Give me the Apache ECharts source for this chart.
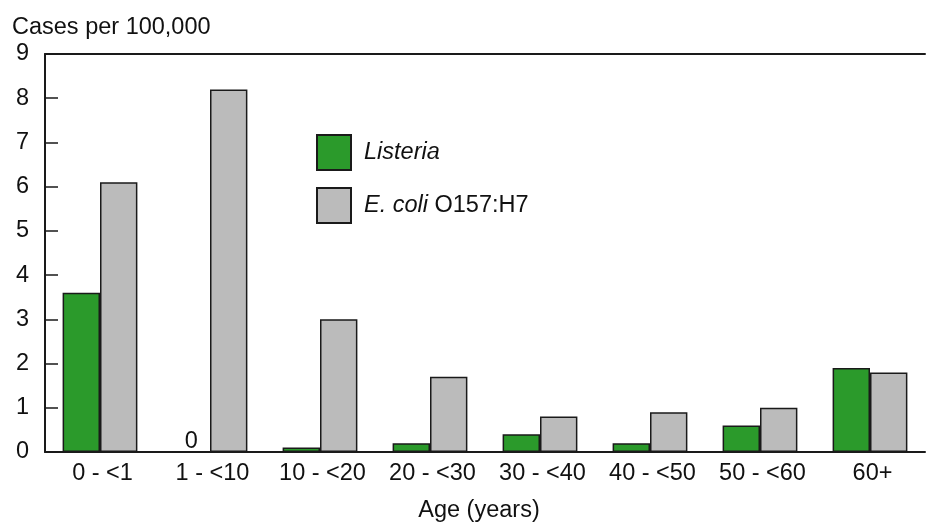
<!DOCTYPE html>
<html>
<head>
<meta charset="utf-8">
<script src="https://cdn.jsdelivr.net/npm/echarts@6/dist/echarts.min.js"></script>
<style>
html,body{margin:0;padding:0;background:#fff;}
#chart{width:926px;height:525px;}
</style>
</head>
<body>
<div id="chart"></div>
<script>
const categories = ['0 - <1', '1 - <10', '10 - <20', '20 - <30', '30 - <40', '40 - <50', '50 - <60', '60+'];
const listeria = [3.6, 0, 0.1, 0.2, 0.4, 0.2, 0.6, 1.9];
const ecoli = [6.1, 8.2, 3.0, 1.7, 0.8, 0.9, 1.0, 1.8];
const yTicks = [0, 1, 2, 3, 4, 5, 6, 7, 8, 9];
const seriesNames = ['Listeria', 'E. coli O157:H7'];

const FONT = '"Liberation Sans", Arial, sans-serif';
const FS = 23.5;
const TXT = '#111';
const BORDER = '#1a1a1a';

const chart = echarts.init(document.getElementById('chart'), null, {renderer: 'canvas'});

const listeriaData = listeria.map((v, i) => (v === 0 ? {
  value: v,
  label: {show: true, position: 'top', distance: 1, offset: [0, 3], formatter: '0', fontFamily: FONT, fontSize: FS, color: TXT}
} : v));

chart.setOption({
  animation: false,
  backgroundColor: '#fff',
  title: {
    text: 'Cases per 100,000',
    left: 7, top: 11,
    textStyle: {fontFamily: FONT, fontSize: FS, fontWeight: 'normal', color: TXT}
  },
  legend: {
    orient: 'vertical',
    left: 316, top: 134,
    padding: 0,
    itemWidth: 34, itemHeight: 35, itemGap: 16,
    icon: 'rect',
    data: seriesNames,
    formatter: n => n === 'Listeria' ? '{i|Listeria}' : '{i|E. coli}{n| O157:H7}',
    textStyle: {
      fontFamily: FONT, fontSize: FS, color: TXT,
      rich: {
        i: {fontFamily: FONT, fontSize: FS, fontStyle: 'italic', color: TXT, padding: [0, 0, 0, 8]},
        n: {fontFamily: FONT, fontSize: FS, color: TXT}
      }
    }
  },
  grid: {left: 45, right: 1, top: 54, bottom: 73, containLabel: false, outerBoundsMode: 'none'},
  xAxis: [{
    type: 'category',
    data: categories,
    position: 'bottom',
    name: 'Age (years)',
    nameLocation: 'middle',
    nameGap: 47,
    nameTextStyle: {fontFamily: FONT, fontSize: FS, color: TXT, padding: [0, 12, 0, 0]},
    axisLine: {show: true, lineStyle: {color: BORDER, width: 2}},
    axisTick: {show: false},
    axisLabel: {fontFamily: FONT, fontSize: FS, color: TXT, margin: 10, interval: 0, padding: [0, 0, 0, 5]}
  }, {
    type: 'category',
    data: categories,
    position: 'top',
    axisLine: {show: true, lineStyle: {color: BORDER, width: 2}},
    axisTick: {show: false},
    axisLabel: {show: false}
  }],
  yAxis: {
    type: 'value',
    min: yTicks[0], max: yTicks[yTicks.length - 1], interval: 1,
    axisLine: {show: true, lineStyle: {color: BORDER, width: 2}},
    axisTick: {show: true, inside: true, length: 13, lineStyle: {color: BORDER, width: 1.5}},
    axisLabel: {fontFamily: FONT, fontSize: FS, color: TXT, margin: 16},
    splitLine: {show: false}
  },
  series: [{
    name: seriesNames[0],
    type: 'bar',
    xAxisIndex: 0,
    data: listeriaData,
    barGap: '0%',
    barCategoryGap: '32%',
    itemStyle: {color: '#2b9a2b', borderColor: BORDER, borderWidth: 1.5}
  }, {
    name: seriesNames[1],
    type: 'bar',
    xAxisIndex: 0,
    data: ecoli,
    barGap: '0%',
    barCategoryGap: '32%',
    itemStyle: {color: '#bbbbbb', borderColor: BORDER, borderWidth: 1.5}
  }]
});
</script>
</body>
</html>
